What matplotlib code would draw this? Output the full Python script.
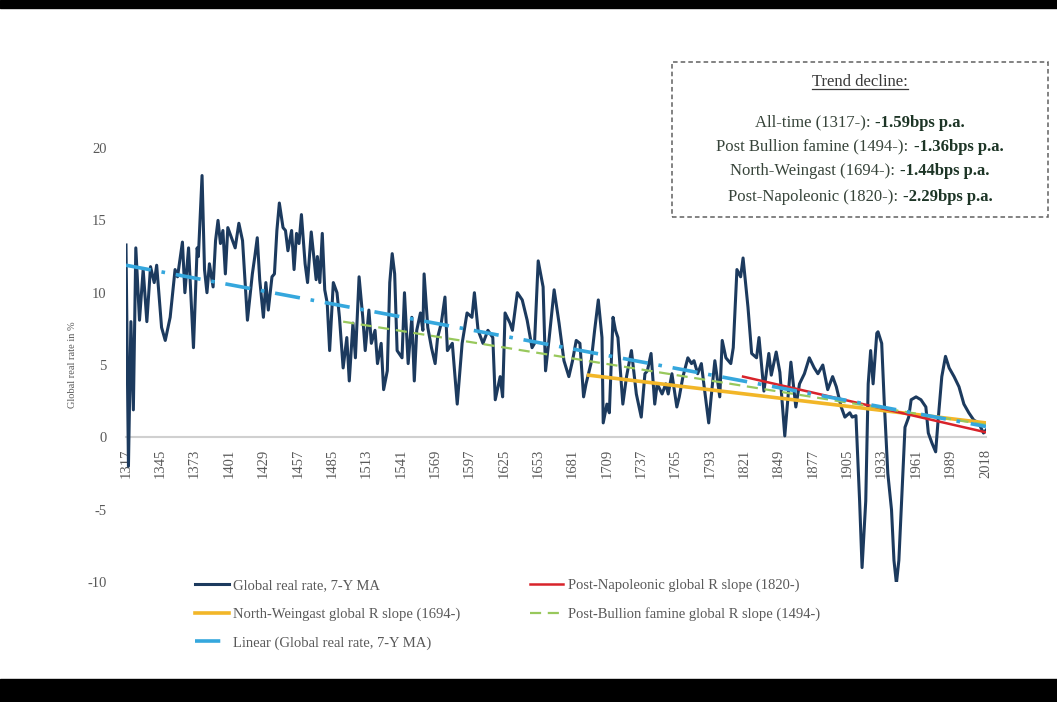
import matplotlib
matplotlib.use("Agg")
import matplotlib.pyplot as plt
from matplotlib.patches import Rectangle
from matplotlib.lines import Line2D

plt.rcParams['font.family'] = ['Liberation Serif', 'DejaVu Serif']

# global real rate, 7-year moving average
years = [1317, 1319, 1321, 1323, 1325, 1328, 1331, 1334, 1337, 1340, 1342, 1346, 1349, 1353,
         1357, 1359, 1363, 1365, 1368, 1372, 1375, 1376, 1379, 1381, 1383, 1385, 1388, 1390,
         1392, 1394, 1396, 1398, 1400, 1403, 1406, 1409, 1412, 1416, 1420, 1422, 1424, 1426,
         1429, 1431, 1433, 1436, 1438, 1440, 1442, 1445, 1447, 1449, 1452, 1454, 1456, 1458,
         1460, 1463, 1465, 1468, 1472, 1473, 1475, 1477, 1479, 1481, 1483, 1486, 1489, 1491,
         1494, 1497, 1499, 1502, 1504, 1507, 1510, 1512, 1515, 1517, 1520, 1522, 1525, 1527,
         1530, 1532, 1534, 1536, 1538, 1542, 1544, 1547, 1550, 1552, 1554, 1557, 1559, 1560,
         1563, 1566, 1569, 1571, 1574, 1577, 1579, 1583, 1587, 1591, 1595, 1599, 1601, 1604,
         1608, 1612, 1616, 1618, 1622, 1624, 1626, 1630, 1632, 1636, 1640, 1644, 1648, 1650,
         1653, 1657, 1659, 1662, 1666, 1670, 1674, 1678, 1681, 1684, 1687, 1690, 1692, 1696,
         1699, 1702, 1705, 1706, 1709, 1711, 1714, 1716, 1718, 1722, 1725, 1729, 1733, 1737,
         1740, 1742, 1745, 1748, 1750, 1754, 1757, 1759, 1762, 1766, 1768, 1771, 1775, 1778,
         1780, 1783, 1786, 1788, 1792, 1794, 1797, 1801, 1803, 1806, 1810, 1812, 1815, 1818,
         1820, 1824, 1827, 1831, 1833, 1837, 1841, 1843, 1847, 1850, 1854, 1857, 1859, 1863,
         1866, 1870, 1874, 1878, 1881, 1885, 1889, 1893, 1896, 1900, 1903, 1907, 1909, 1912,
         1915, 1917, 1920, 1922, 1924, 1926, 1929, 1930, 1933, 1935, 1938, 1941, 1943, 1945,
         1947, 1950, 1952, 1955, 1957, 1961, 1965, 1969, 1971, 1974, 1977, 1979, 1982, 1985,
         1988, 1992, 1996, 2000, 2004, 2008, 2012, 2016, 2018]
real_rate = [13.3, -2.0, 8.0, 1.9, 13.1, 8.1, 11.6, 8.0, 11.8, 10.7, 11.9, 7.6, 6.7, 8.3,
             11.6, 11.1, 13.5, 10.0, 13.1, 6.2, 13.1, 12.5, 18.1, 11.6, 10.0, 12.0, 10.4, 13.6,
             15.0, 13.4, 14.3, 11.3, 14.5, 13.8, 13.1, 14.8, 13.6, 8.1, 11.3, 12.5, 13.8, 10.9,
             8.3, 10.7, 8.8, 11.1, 11.3, 14.3, 16.2, 14.5, 14.3, 12.9, 14.3, 11.6, 14.1, 13.4,
             15.4, 12.0, 10.7, 14.2, 10.9, 12.5, 10.7, 14.1, 10.2, 9.3, 6.0, 10.7, 10.0, 8.3,
             4.8, 6.9, 3.9, 7.9, 5.5, 11.1, 8.3, 6.0, 8.8, 6.5, 7.4, 5.1, 6.5, 3.3,
             4.6, 10.7, 12.7, 11.3, 6.0, 5.5, 10.0, 5.1, 8.3, 3.9, 7.4, 8.6, 7.4, 11.3,
             7.6, 6.2, 5.1, 6.9, 7.9, 9.7, 6.0, 6.5, 2.3, 6.5, 8.6, 8.3, 10.0, 7.4,
             6.5, 7.4, 6.9, 2.6, 4.2, 2.8, 8.6, 7.9, 7.4, 10.0, 9.5, 8.1, 6.2, 6.5,
             12.2, 10.4, 4.6, 6.9, 10.2, 7.9, 5.3, 4.2, 5.3, 6.7, 6.5, 2.8, 3.7, 5.1,
             7.4, 9.5, 6.9, 1.0, 2.3, 1.7, 8.3, 7.4, 6.9, 2.3, 4.2, 6.0, 3.0, 1.4,
             4.4, 4.6, 5.8, 2.3, 3.7, 3.0, 3.7, 3.0, 4.4, 2.1, 2.8, 4.2, 5.5, 5.1,
             5.3, 4.4, 5.1, 3.7, 1.0, 2.8, 5.3, 2.8, 6.7, 5.5, 5.1, 6.2, 11.6, 11.1,
             12.4, 9.0, 5.8, 5.5, 6.9, 3.2, 5.8, 4.3, 5.9, 4.5, 0.1, 3.2, 5.2, 2.1,
             3.7, 4.4, 5.5, 4.8, 4.4, 5.0, 3.3, 4.2, 3.5, 2.1, 1.4, 1.7, 1.4, 1.5,
             -4.4, -9.0, -4.4, 3.7, 6.0, 3.7, 7.2, 7.3, 6.5, 2.6, -2.5, -5.0, -8.5, -10.1,
             -8.5, -3.0, 0.7, 1.4, 2.6, 2.8, 2.6, 2.1, 0.3, -0.4, -1.0, 1.2, 4.2, 5.6,
             4.8, 4.2, 3.5, 2.3, 1.7, 1.2, 1.0, 0.3, 0.5]

# trend lines: (start year, end year), (start value, end value)
linear_x, linear_y = [1317, 2018], [11.9, 0.75]
bullion_x, bullion_y = [1494, 2018], [8.0, 0.87]
weingast_x, weingast_y = [1694, 2018], [4.3, 1.0]
napoleon_x, napoleon_y = [1820, 2018], [4.2, 0.35]

tick_years = [1317, 1345, 1373, 1401, 1429, 1457, 1485, 1513, 1541, 1569, 1597, 1625, 1653,
              1681, 1709, 1737, 1765, 1793, 1821, 1849, 1877, 1905, 1933, 1961, 1989, 2018]

box_title = "Trend decline:"
box_lines = [("All-time (1317-):", "-1.59bps p.a."),
             ("Post Bullion famine (1494-):", "-1.36bps p.a."),
             ("North-Weingast (1694-):", "-1.44bps p.a."),
             ("Post-Napoleonic (1820-):", "-2.29bps p.a.")]

grey = '#595959'

fig = plt.figure(figsize=(10.57, 7.02), dpi=100)
ax = fig.add_axes([0.1192, 0.1709, 0.8136, 0.6182])

l_main, = ax.plot(years, real_rate, color='#1C3A5E', lw=2.2, zorder=3,
                  label="Global real rate, 7-Y MA")
l_wein, = ax.plot(weingast_x, weingast_y, color='#F2B628', lw=2.6, zorder=4,
                  label="North-Weingast global R slope (1694-)")
l_lin, = ax.plot(linear_x, linear_y, color='#35A7DD', lw=2.6, zorder=5,
                 linestyle=(0, (7, 3, 1, 3)), label="Linear (Global real rate, 7-Y MA)")
l_nap, = ax.plot(napoleon_x, napoleon_y, color='#D8232A', lw=1.8, zorder=4,
                 label="Post-Napoleonic global R slope (1820-)")
l_bul, = ax.plot(bullion_x, bullion_y, color='#98C85C', lw=1.6, zorder=4,
                 linestyle=(0, (5, 3)), label="Post-Bullion famine global R slope (1494-)")

ax.set_xlim(1317, 2018)
ax.set_ylim(-10, 20)
ax.set_yticks([-10, -5, 0, 5, 10, 15, 20])
ax.set_yticklabels(['-10', '-5', '0', '5', '10', '15', '20'])
ax.set_xticks(tick_years)
ax.set_xticklabels([str(y) for y in tick_years])
ax.tick_params(axis='both', length=0, colors=grey, labelsize=10.5)
ax.tick_params(axis='x', pad=8, labelrotation=90)
ax.tick_params(axis='y', pad=14)

for s in ['top', 'right', 'left']:
    ax.spines[s].set_visible(False)
ax.spines['bottom'].set_position(('data', 0))
ax.spines['bottom'].set_color('#D0D0D0')
ax.spines['bottom'].set_linewidth(1.5)

ax.set_ylabel("Global real rate in %", fontsize=7.5, color=grey)
ax.yaxis.set_label_coords(-0.057, 0.5)

leg = fig.legend(handles=[l_main, l_wein, l_lin, l_nap, l_bul], ncol=2,
                 loc='upper left', bbox_to_anchor=(0.178, 0.186), frameon=False,
                 fontsize=10.5, labelcolor=grey, handlelength=2.3, handletextpad=0.3,
                 columnspacing=4.75, labelspacing=1.05, borderpad=0)

# dashed text box
fig.patches.append(Rectangle((0.6358, 0.6909), 0.3557, 0.2208, transform=fig.transFigure,
                             fill=False, edgecolor='#606060', lw=1.1, linestyle=(0, (3, 2))))

renderer = fig.canvas.get_renderer()
cx = 0.8136
t = fig.text(cx, 0.8832, box_title, ha='center', va='center', fontsize=12, color='#3a3a3a')
bb = t.get_window_extent(renderer).transformed(fig.transFigure.inverted())
fig.lines.append(Line2D([bb.x0, bb.x1], [bb.y0 + 0.002, bb.y0 + 0.002],
                        transform=fig.transFigure, color='#3a3a3a', lw=0.9))

line_y = [0.8250, 0.7910, 0.7565, 0.7200]
gap = 5 / fig.bbox.width
for (reg, bold), yy in zip(box_lines, line_y):
    t1 = fig.text(0, yy, reg, ha='left', va='center', fontsize=12, color='#37443a')
    t2 = fig.text(0, yy, bold, ha='left', va='center', fontsize=12, fontweight='bold',
                  color='#1d3526')
    w1 = t1.get_window_extent(renderer).width / fig.bbox.width
    w2 = t2.get_window_extent(renderer).width / fig.bbox.width
    x0 = cx - (w1 + gap + w2) / 2
    t1.set_x(x0)
    t2.set_x(x0 + w1 + gap)

# black bands of the screenshot
fig.patches.append(Rectangle((0, 0), 1, 23 / 702, transform=fig.transFigure,
                             color='black', zorder=10))
fig.patches.append(Rectangle((0, 1 - 8 / 702), 1, 8 / 702, transform=fig.transFigure,
                             color='black', zorder=10))

fig.savefig('out.png', dpi=100)
